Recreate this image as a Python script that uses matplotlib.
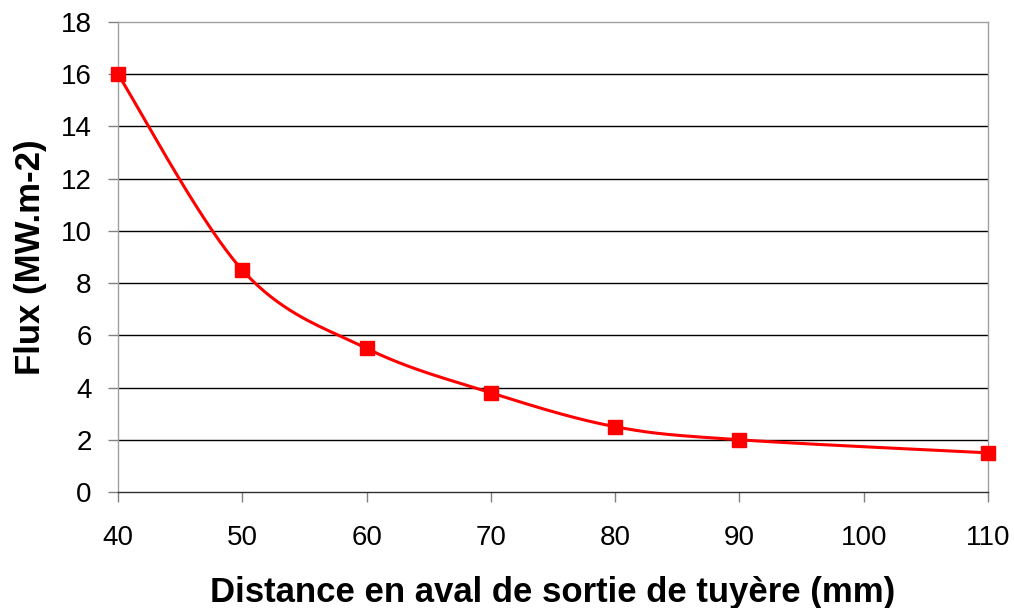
import numpy as np
import matplotlib
matplotlib.use("Agg")
import matplotlib.pyplot as plt

distance = [40, 50, 60, 70, 80, 90, 110]
flux = [16.0, 8.5, 5.5, 3.8, 2.5, 2.0, 1.5]
xticks = [40, 50, 60, 70, 80, 90, 100, 110]
yticks = [0, 2, 4, 6, 8, 10, 12, 14, 16, 18]


def smooth(xs, ys, n=40):
    # courbe lissée type Excel (Bezier Catmull-Rom)
    xs = np.asarray(xs, float)
    ys = np.asarray(ys, float)
    px = np.concatenate([[xs[0]], xs, [xs[-1]]])
    py = np.concatenate([[ys[0]], ys, [ys[-1]]])
    outx, outy = [], []
    t = np.linspace(0, 1, n)
    for i in range(1, len(px) - 2):
        p0 = np.array([px[i], py[i]])
        p3 = np.array([px[i + 1], py[i + 1]])
        p1 = p0 + (np.array([px[i + 1], py[i + 1]]) - np.array([px[i - 1], py[i - 1]])) / 6
        p2 = p3 - (np.array([px[i + 2], py[i + 2]]) - np.array([px[i], py[i]])) / 6
        b = ((1 - t) ** 3)[:, None] * p0 + (3 * (1 - t) ** 2 * t)[:, None] * p1 \
            + (3 * (1 - t) * t ** 2)[:, None] * p2 + (t ** 3)[:, None] * p3
        outx.extend(b[:, 0])
        outy.extend(b[:, 1])
    return outx, outy


plt.rcParams['font.family'] = ['Liberation Sans', 'DejaVu Sans']

fig = plt.figure(figsize=(10.14, 6.08), dpi=100)
ax = fig.add_axes([118 / 1014, 1 - 492 / 608, 870 / 1014, 470 / 608])

for y in yticks[1:-1]:
    ax.axhline(y, color='black', lw=1.0, zorder=1)

sx, sy = smooth(distance, flux)
ax.plot(sx, sy, color='#ff0000', lw=2.2, zorder=3, clip_on=False)
ax.plot(distance, flux, 's', color='#ff0000', ms=10, zorder=4, clip_on=False)

ax.set_xlim(40, 110)
ax.set_ylim(0, 18)
ax.set_xticks(xticks)
ax.set_yticks(yticks)

for side in ['left', 'right', 'top']:
    ax.spines[side].set_color('#a0a0a0')
    ax.spines[side].set_linewidth(1.0)
ax.spines['bottom'].set_color('#303030')
ax.spines['bottom'].set_linewidth(1.0)

ax.tick_params(axis='both', direction='out', length=7, width=1.0,
               color='#808080', labelsize=20)
ax.tick_params(axis='y', pad=12)
ax.tick_params(axis='x', pad=17)

ax.set_xlabel('Distance en aval de sortie de tuyère (mm)', fontsize=25,
              fontweight='bold', labelpad=18)
ax.set_ylabel('Flux (MW.m-2)', fontsize=25, fontweight='bold', labelpad=10)

fig.savefig('out.png', dpi=100)
